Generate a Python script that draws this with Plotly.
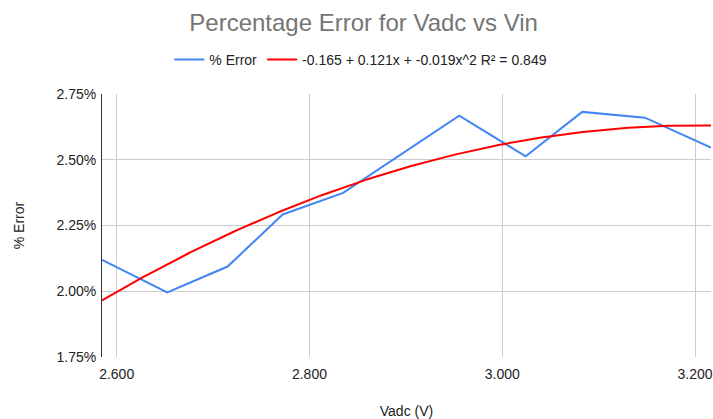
import numpy as np
import plotly.graph_objects as go

vadc = [2.5848, 2.6525, 2.7151, 2.7722, 2.8350, 2.9554, 3.0243, 3.0830, 3.1480, 3.2166]
pct_error = [0.02119, 0.01996, 0.02094, 0.02292, 0.02374, 0.02668, 0.02513, 0.02682, 0.02660, 0.02546]

trend_label = "-0.165 + 0.121x + -0.019x^2 R² = 0.849"
x_ticks = [2.6, 2.8, 3.0, 3.2]
y_ticks = [0.0175, 0.02, 0.0225, 0.025, 0.0275]

coef = np.polyfit(vadc, pct_error, 2)
xs = np.linspace(min(vadc), max(vadc), 200)
ys = np.polyval(coef, xs)

FONT = "Arial, Liberation Sans, sans-serif"

fig = go.Figure()
fig.add_trace(go.Scatter(x=vadc, y=pct_error, mode="lines", name="% Error",
                         line=dict(color="#4285F4", width=2)))
fig.add_trace(go.Scatter(x=xs, y=ys, mode="lines", name=trend_label,
                         line=dict(color="#FF0000", width=2)))

fig.update_layout(
    width=713, height=419,
    margin=dict(l=102, r=2, t=94, b=62),
    paper_bgcolor="white", plot_bgcolor="white",
    font=dict(family=FONT, size=14, color="#222222"),
    title=dict(text="Percentage Error for Vadc vs Vin", x=0.51, xanchor="center",
               y=0.945, yanchor="middle",
               font=dict(family=FONT, size=24, color="#757575")),
    legend=dict(orientation="h", x=0.425, xanchor="center", y=1.13, yanchor="middle",
                font=dict(family=FONT, size=14, color="#222222"), itemwidth=30,
                bgcolor="rgba(0,0,0,0)"),
    showlegend=True,
)
fig.update_xaxes(range=[min(vadc), max(vadc)], tickvals=x_ticks, tickformat=".3f",
                 automargin=False,
                 showgrid=True, gridcolor="#cccccc", gridwidth=1,
                 zeroline=False, showline=False,
                 ticks="outside", ticklen=4, tickcolor="rgba(0,0,0,0)",
                 tickfont=dict(family=FONT, size=14, color="#222222"),
                 title=dict(text="Vadc (V)", standoff=38, font=dict(family=FONT, size=14, color="#222222")))
fig.update_yaxes(range=[0.0175, 0.0275], tickvals=y_ticks, tickformat=".2%",
                 automargin=False,
                 showgrid=True, gridcolor="#cccccc", gridwidth=1,
                 zeroline=False, showline=True, linecolor="#333333", linewidth=1,
                 ticks="outside", ticklen=2, tickcolor="rgba(0,0,0,0)",
                 tickfont=dict(family=FONT, size=14, color="#222222"),
                 title=dict(text="% Error", standoff=28, font=dict(family=FONT, size=14, color="#222222")))

fig.write_html("out.html", config={"displayModeBar": False},
               post_script="document.body.style.margin='0';document.body.style.overflow='hidden';")
